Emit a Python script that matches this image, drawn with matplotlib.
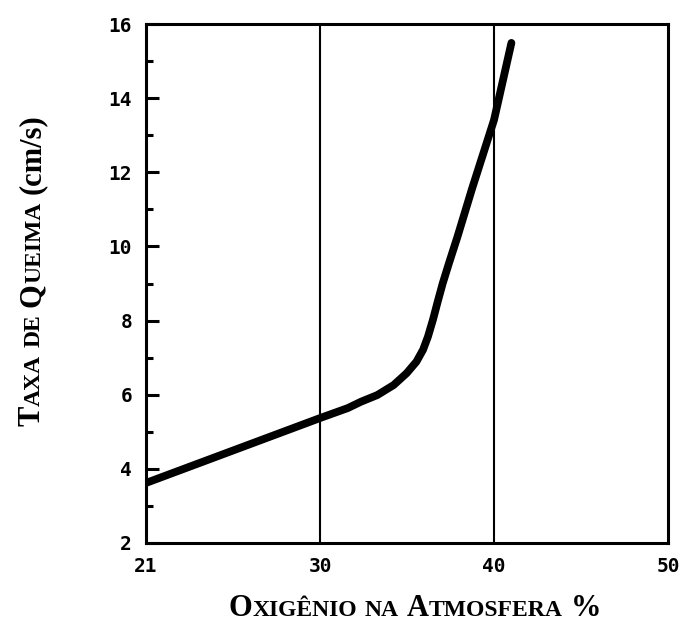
import numpy as np
import matplotlib
matplotlib.use("Agg")
import matplotlib.pyplot as plt
from matplotlib.transforms import IdentityTransform

# ---- data ----
oxygen = [21.0, 30.0, 31.6, 32.35, 33.29, 34.23, 34.98, 35.54, 35.92, 36.20,
          36.49, 36.77, 37.05, 37.42, 37.90, 38.74, 40.0, 41.0]
burn_rate = [3.62, 5.37, 5.64, 5.81, 5.99, 6.26, 6.58, 6.89, 7.21, 7.56,
             8.02, 8.52, 9.00, 9.56, 10.26, 11.56, 13.41, 15.49]
x_ticks = [21, 30, 40, 50]
x_tick_labels = ["21", "30", "40", "50"]
y_major = [2, 4, 6, 8, 10, 12, 14, 16]
y_minor = [3, 5, 7, 9, 11, 13, 15]
y_tick_labels = ["2", "4", "6", "8", "10", "12", "14", "16"]
ref_lines = [30, 40]

W, H, DPI = 698, 622, 100
fig = plt.figure(figsize=(W / DPI, H / DPI), dpi=DPI)
fig.patch.set_facecolor("white")

L, R, T, B = 146, 668, 24, 543
ax = fig.add_axes([L / W, (H - B) / H, (R - L) / W, (B - T) / H])

# hand-drawn axis: 21 sits where 20 would be on an even scale
kx = [-100, 21, 30, 40, 50, 300]
ky = [-(121) * 10 / 9, 0, 10, 20, 30, 280]
fwd = lambda v: np.interp(v, kx, ky)
inv = lambda v: np.interp(v, ky, kx)
ax.set_xscale("function", functions=(fwd, inv))
ax.set_xlim(21, 50)
ax.set_ylim(2, 16)

for xv in ref_lines:
    ax.axvline(xv, color="black", lw=1.5, zorder=2)

ax.plot(oxygen, burn_rate, color="black", lw=5.6, solid_capstyle="round",
        solid_joinstyle="round", zorder=3)

for s in ax.spines.values():
    s.set_linewidth(2.2)
    s.set_color("black")

ax.set_xticks(x_ticks)
ax.set_xticklabels(x_tick_labels)
ax.xaxis.set_minor_locator(matplotlib.ticker.NullLocator())
ax.tick_params(axis="x", length=0, pad=10)
ax.set_yticks(y_major)
ax.set_yticklabels(y_tick_labels)
ax.set_yticks(y_minor, minor=True)
ax.tick_params(axis="y", which="major", direction="in", length=9, width=2.2, pad=10)
ax.tick_params(axis="y", which="minor", direction="in", length=5, width=2.2)
for lab in ax.get_xticklabels() + ax.get_yticklabels():
    lab.set_fontfamily("DejaVu Sans Mono")
    lab.set_fontweight("bold")
    lab.set_fontsize(14)

# ---- small-caps axis titles ----
renderer = fig.canvas.get_renderer()
FAM = "Liberation Serif"

def measure(s, size):
    t = fig.text(0, 0, s, fontsize=size, family=FAM, weight="bold")
    w = t.get_window_extent(renderer).width
    t.remove()
    return w

def smallcaps(pieces, center, base, vertical=False, gap=0.5, space=7):
    widths = []
    for s, size in pieces:
        widths.append(space if s == " " else measure(s, size) + gap)
    total = sum(widths)
    pos = center - total / 2
    for (s, size), w in zip(pieces, widths):
        if s != " ":
            if vertical:
                fig.text(base, pos, s, fontsize=size, family=FAM, weight="bold",
                         rotation=90, rotation_mode="anchor", ha="left",
                         va="baseline", transform=IdentityTransform())
            else:
                fig.text(pos, base, s, fontsize=size, family=FAM, weight="bold",
                         ha="left", va="baseline", transform=IdentityTransform())
        pos += w

BIG, SMALL = 22, 17
xlabel = [("O", BIG), ("XIGÊNIO", SMALL), (" ", 0), ("NA", SMALL), (" ", 0),
          ("A", BIG), ("TMOSFERA", SMALL), (" ", 0), ("%", BIG)]
ylabel = [("T", BIG), ("AXA", SMALL), (" ", 0), ("DE", SMALL), (" ", 0),
          ("Q", BIG), ("UEIMA", SMALL), (" ", 0), ("(cm/s)", BIG)]
smallcaps(xlabel, center=415, base=H - 616)
smallcaps(ylabel, center=H - 270, base=40, vertical=True)

fig.savefig("out.png", dpi=DPI, facecolor="white")
